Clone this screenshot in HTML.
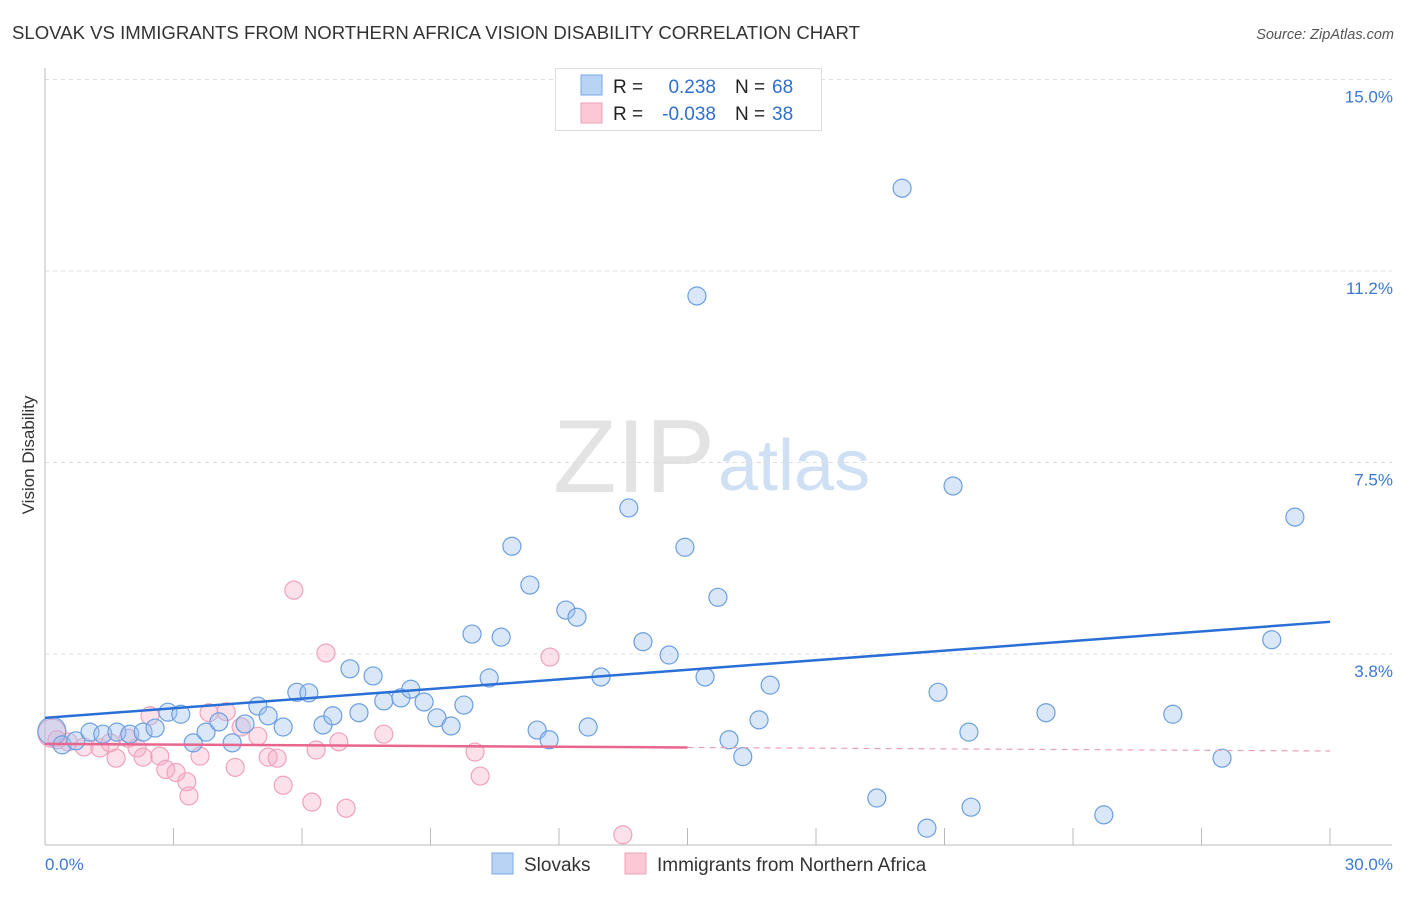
<!DOCTYPE html>
<html><head><meta charset="utf-8"><style>
body{margin:0;background:#fff;font-family:"Liberation Sans",sans-serif;}
svg text{font-family:"Liberation Sans",sans-serif;}
</style></head><body>
<svg id="chart" width="1406" height="892">
<text x="12" y="39" font-size="18" fill="#333" textLength="848" lengthAdjust="spacingAndGlyphs">SLOVAK VS IMMIGRANTS FROM NORTHERN AFRICA VISION DISABILITY CORRELATION CHART</text>
<text x="1394" y="39" font-size="14.5" fill="#555" font-style="italic" text-anchor="end">Source: ZipAtlas.com</text>
<g>
<text x="553" y="492" font-size="104" fill="#e3e3e3" font-family="Liberation Serif,serif" textLength="162" lengthAdjust="spacingAndGlyphs">ZIP</text>
<text x="718" y="490" font-size="72" fill="#cfe0f4">atlas</text>
</g>
<g id="grid"></g>
<g id="axes"></g>
<g id="marks"></g>
<text x="34" y="455" font-size="17" fill="#333" transform="rotate(-90 34 455)" text-anchor="middle">Vision Disability</text>
<g>
<rect x="555.5" y="68.5" width="266" height="62" fill="#fff" stroke="#ddd"/>
<rect x="581" y="75" width="21" height="20" fill="#b9d3f4" stroke="#7aa8e6"/>
<rect x="581" y="103" width="21" height="20" fill="#fcc8d6" stroke="#f0a0b8"/>
<text x="613" y="93" font-size="19" fill="#222">R = </text><text x="716" y="93" font-size="19" fill="#2f6fd0" text-anchor="end">0.238</text>
<text x="735" y="93" font-size="19" fill="#222">N = </text><text x="772" y="93" font-size="19" fill="#2f6fd0">68</text>
<text x="613" y="120" font-size="19" fill="#222">R = </text><text x="716" y="120" font-size="19" fill="#2f6fd0" text-anchor="end">-0.038</text>
<text x="735" y="120" font-size="19" fill="#222">N = </text><text x="772" y="120" font-size="19" fill="#2f6fd0">38</text>
</g>
<g>
<rect x="492" y="853" width="21" height="21" fill="#b9d3f4" stroke="#7aa8e6"/>
<text x="524" y="871" font-size="19" fill="#333">Slovaks</text>
<rect x="625" y="853" width="21" height="21" fill="#fcc8d6" stroke="#f0a0b8"/>
<text x="657" y="871" font-size="19" fill="#333">Immigrants from Northern Africa</text>
</g>
</svg>
<script>
const yTicks=[15.0,11.25,7.5,3.75];
const yTickLabels=["15.0%","11.2%","7.5%","3.8%"];
const xTickLabels=["0.0%","30.0%"];
const slovakX=[0.16,0.40,0.72,1.05,1.35,1.68,1.98,2.29,2.57,2.87,3.17,3.46,3.76,4.06,4.37,4.67,4.97,5.21,5.56,5.88,6.16,6.49,6.72,7.12,7.33,7.66,7.91,8.31,8.54,8.85,9.15,9.48,9.78,9.97,10.37,10.65,10.90,11.32,11.49,11.77,12.16,12.42,12.68,12.98,13.63,13.96,14.57,14.94,15.22,15.41,15.71,15.97,16.29,16.67,16.93,19.42,20.01,20.59,20.85,21.20,21.57,21.62,23.37,24.72,26.33,27.48,28.64,29.18];
const slovakY=[2.24,1.97,2.05,2.22,2.18,2.22,2.18,2.22,2.30,2.61,2.57,2.01,2.22,2.42,2.01,2.38,2.73,2.54,2.32,3.00,2.99,2.36,2.54,3.46,2.60,3.32,2.83,2.89,3.06,2.81,2.50,2.34,2.75,4.14,3.28,4.08,5.86,5.10,2.26,2.07,4.61,4.47,2.32,3.30,6.61,3.99,3.73,5.84,10.76,3.30,4.86,2.07,1.74,2.46,3.14,0.93,12.87,0.34,3.00,7.04,2.22,0.75,2.60,0.60,2.57,1.71,4.03,6.43];
const immX=[0.16,0.28,0.54,0.91,1.28,1.52,1.66,1.94,2.15,2.29,2.45,2.68,2.82,3.06,3.31,3.36,3.62,3.83,4.23,4.44,4.58,4.97,5.21,5.42,5.56,5.81,6.23,6.33,6.56,6.86,7.03,7.91,10.04,10.16,11.79,13.49];
const immY=[2.20,2.07,2.03,1.93,1.91,2.01,1.71,2.10,1.91,1.73,2.54,1.75,1.49,1.43,1.25,0.97,1.75,2.60,2.62,1.53,2.32,2.14,1.73,1.71,1.18,5.00,0.85,1.87,3.77,2.03,0.73,2.18,1.83,1.36,3.69,0.21];
const slovakTrend=[2.50,4.38];
const immTrend=[1.99,1.85];
const immTrendSolidEnd=15;

const NS="http://www.w3.org/2000/svg";
const xs=v=>45+v/30*1285;
const ys=v=>845.5-v*51.07;
function mk(tag,attrs,parent){const e=document.createElementNS(NS,tag);for(const k in attrs)e.setAttribute(k,attrs[k]);parent.appendChild(e);return e;}
const grid=document.getElementById('grid'),axes=document.getElementById('axes'),marks=document.getElementById('marks');
yTicks.forEach((t,i)=>{
  const l=mk('line',{x1:45,x2:1392,y1:ys(t),y2:ys(t),stroke:'#ddd','stroke-dasharray':'4 4'},grid);
  
  
  const tx=mk('text',{x:1393,y:ys(t)+23,'font-size':17,fill:'#3a78d4','text-anchor':'end'},grid);
  tx.textContent=yTickLabels[i];
  
  
});
mk('line',{x1:45,x2:45,y1:68,y2:845,stroke:'#bbb'},axes);
mk('line',{x1:45,x2:1392,y1:845,y2:845,stroke:'#bbb'},axes);
for(let i=0;i<=10;i++){const l=mk('line',{x1:xs(i*3),x2:xs(i*3),y1:828,y2:845,stroke:'#bbb'},axes);
  
  }
const xl0=mk('text',{x:45,y:870,'font-size':17,fill:'#3a78d4'},axes);xl0.textContent=xTickLabels[0];


const xl1=mk('text',{x:1393,y:870,'font-size':17,fill:'#3a78d4','text-anchor':'end'},axes);xl1.textContent=xTickLabels[1];


immX.forEach((x,i)=>{const c=mk('circle',{cx:xs(x),cy:ys(immY[i]),r:i===0?14:9,fill:'rgba(246,170,196,0.35)',stroke:'#f0a3bb','stroke-width':1.2},marks);
  
  });
slovakX.forEach((x,i)=>{const c=mk('circle',{cx:xs(x),cy:ys(slovakY[i]),r:i===0?14:9,fill:'rgba(160,196,240,0.4)',stroke:'#6c9fe0','stroke-width':1.2},marks);
  
  });
const it=v=>immTrend[0]+(immTrend[1]-immTrend[0])*v/30;
const st=mk('line',{x1:xs(0),y1:ys(slovakTrend[0]),x2:xs(30),y2:ys(slovakTrend[1]),stroke:'#2a6fd6','stroke-width':2.5},marks);


const p1=mk('line',{x1:xs(0),y1:ys(it(0)),x2:xs(immTrendSolidEnd),y2:ys(it(immTrendSolidEnd)),stroke:'#e8668e','stroke-width':2.5},marks);


const p2=mk('line',{x1:xs(immTrendSolidEnd),y1:ys(it(immTrendSolidEnd)),x2:xs(30),y2:ys(it(30)),stroke:'#e8a0b6','stroke-width':1.2,'stroke-dasharray':'6 5'},marks);


</script>
</body></html>
